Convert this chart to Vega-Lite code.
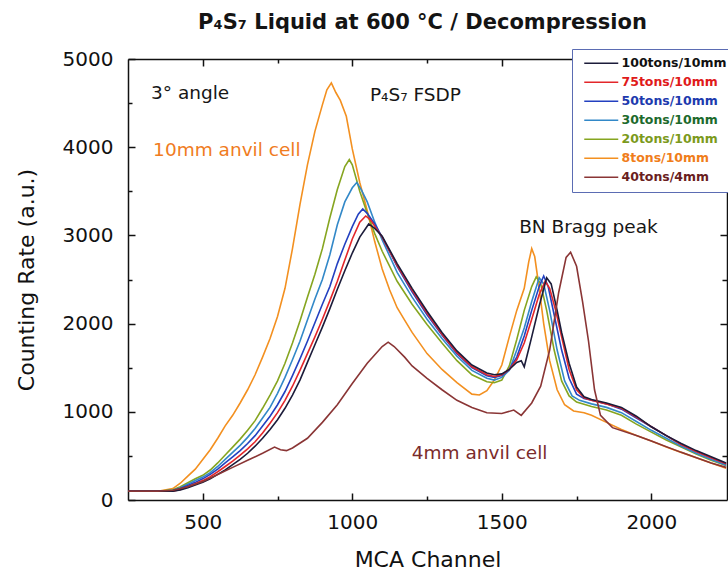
{
  "$schema": "https://vega.github.io/schema/vega-lite/v6.json",
  "width": 599,
  "height": 441,
  "autosize": {"type": "none"},
  "padding": {"left": 128, "top": 59, "right": 1, "bottom": 78},
  "background": "white",
  "config": {"font": "DejaVu Sans", "view": {"stroke": null}},
  "title": {"text": "P₄S₇ Liquid at 600 °C / Decompression", "font": "DejaVu Sans", "fontSize": 21, "fontWeight": "bold", "color": "#141414", "anchor": "middle", "frame": "group", "dx": -5, "offset": 16},
  "datasets": {
    "curves": [
      {"series":"8tons/10mm","channel":250,"rate":100},{"series":"8tons/10mm","channel":300,"rate":100},{"series":"8tons/10mm","channel":350,"rate":100},{"series":"8tons/10mm","channel":400,"rate":130},{"series":"8tons/10mm","channel":425,"rate":190},{"series":"8tons/10mm","channel":450,"rate":270},{"series":"8tons/10mm","channel":475,"rate":350},{"series":"8tons/10mm","channel":500,"rate":460},{"series":"8tons/10mm","channel":525,"rate":570},{"series":"8tons/10mm","channel":550,"rate":700},{"series":"8tons/10mm","channel":575,"rate":840},{"series":"8tons/10mm","channel":600,"rate":960},{"series":"8tons/10mm","channel":625,"rate":1100},{"series":"8tons/10mm","channel":650,"rate":1250},{"series":"8tons/10mm","channel":675,"rate":1420},{"series":"8tons/10mm","channel":700,"rate":1620},{"series":"8tons/10mm","channel":725,"rate":1830},{"series":"8tons/10mm","channel":750,"rate":2080},{"series":"8tons/10mm","channel":775,"rate":2400},{"series":"8tons/10mm","channel":800,"rate":2850},{"series":"8tons/10mm","channel":825,"rate":3350},{"series":"8tons/10mm","channel":850,"rate":3800},{"series":"8tons/10mm","channel":875,"rate":4180},{"series":"8tons/10mm","channel":900,"rate":4480},{"series":"8tons/10mm","channel":915,"rate":4650},{"series":"8tons/10mm","channel":930,"rate":4730},{"series":"8tons/10mm","channel":945,"rate":4620},{"series":"8tons/10mm","channel":960,"rate":4530},{"series":"8tons/10mm","channel":980,"rate":4350},{"series":"8tons/10mm","channel":1000,"rate":3980},{"series":"8tons/10mm","channel":1025,"rate":3600},{"series":"8tons/10mm","channel":1050,"rate":3280},{"series":"8tons/10mm","channel":1075,"rate":2930},{"series":"8tons/10mm","channel":1100,"rate":2620},{"series":"8tons/10mm","channel":1125,"rate":2380},{"series":"8tons/10mm","channel":1150,"rate":2180},{"series":"8tons/10mm","channel":1175,"rate":2040},{"series":"8tons/10mm","channel":1200,"rate":1900},{"series":"8tons/10mm","channel":1250,"rate":1660},{"series":"8tons/10mm","channel":1300,"rate":1480},{"series":"8tons/10mm","channel":1350,"rate":1330},{"series":"8tons/10mm","channel":1400,"rate":1200},{"series":"8tons/10mm","channel":1425,"rate":1190},{"series":"8tons/10mm","channel":1450,"rate":1240},{"series":"8tons/10mm","channel":1475,"rate":1360},{"series":"8tons/10mm","channel":1500,"rate":1530},{"series":"8tons/10mm","channel":1525,"rate":1850},{"series":"8tons/10mm","channel":1550,"rate":2150},{"series":"8tons/10mm","channel":1575,"rate":2400},{"series":"8tons/10mm","channel":1590,"rate":2700},{"series":"8tons/10mm","channel":1600,"rate":2850},{"series":"8tons/10mm","channel":1610,"rate":2760},{"series":"8tons/10mm","channel":1625,"rate":2400},{"series":"8tons/10mm","channel":1640,"rate":2000},{"series":"8tons/10mm","channel":1660,"rate":1580},{"series":"8tons/10mm","channel":1685,"rate":1250},{"series":"8tons/10mm","channel":1710,"rate":1080},{"series":"8tons/10mm","channel":1740,"rate":1010},{"series":"8tons/10mm","channel":1775,"rate":990},{"series":"8tons/10mm","channel":1800,"rate":960},{"series":"8tons/10mm","channel":1850,"rate":880},{"series":"8tons/10mm","channel":1900,"rate":800},{"series":"8tons/10mm","channel":1950,"rate":730},{"series":"8tons/10mm","channel":2000,"rate":670},{"series":"8tons/10mm","channel":2050,"rate":600},{"series":"8tons/10mm","channel":2100,"rate":540},{"series":"8tons/10mm","channel":2150,"rate":480},{"series":"8tons/10mm","channel":2200,"rate":420},{"series":"8tons/10mm","channel":2250,"rate":360},

      {"series":"20tons/10mm","channel":250,"rate":100},{"series":"20tons/10mm","channel":300,"rate":100},{"series":"20tons/10mm","channel":350,"rate":100},{"series":"20tons/10mm","channel":400,"rate":115},{"series":"20tons/10mm","channel":425,"rate":150},{"series":"20tons/10mm","channel":450,"rate":195},{"series":"20tons/10mm","channel":475,"rate":240},{"series":"20tons/10mm","channel":500,"rate":280},{"series":"20tons/10mm","channel":525,"rate":340},{"series":"20tons/10mm","channel":550,"rate":420},{"series":"20tons/10mm","channel":575,"rate":510},{"series":"20tons/10mm","channel":600,"rate":600},{"series":"20tons/10mm","channel":625,"rate":690},{"series":"20tons/10mm","channel":650,"rate":790},{"series":"20tons/10mm","channel":675,"rate":900},{"series":"20tons/10mm","channel":700,"rate":1040},{"series":"20tons/10mm","channel":725,"rate":1190},{"series":"20tons/10mm","channel":750,"rate":1350},{"series":"20tons/10mm","channel":775,"rate":1550},{"series":"20tons/10mm","channel":800,"rate":1780},{"series":"20tons/10mm","channel":825,"rate":2030},{"series":"20tons/10mm","channel":850,"rate":2300},{"series":"20tons/10mm","channel":875,"rate":2560},{"series":"20tons/10mm","channel":900,"rate":2850},{"series":"20tons/10mm","channel":925,"rate":3200},{"series":"20tons/10mm","channel":950,"rate":3520},{"series":"20tons/10mm","channel":975,"rate":3780},{"series":"20tons/10mm","channel":990,"rate":3860},{"series":"20tons/10mm","channel":1000,"rate":3800},{"series":"20tons/10mm","channel":1025,"rate":3500},{"series":"20tons/10mm","channel":1050,"rate":3250},{"series":"20tons/10mm","channel":1075,"rate":3020},{"series":"20tons/10mm","channel":1100,"rate":2820},{"series":"20tons/10mm","channel":1150,"rate":2480},{"series":"20tons/10mm","channel":1200,"rate":2220},{"series":"20tons/10mm","channel":1250,"rate":1990},{"series":"20tons/10mm","channel":1300,"rate":1780},{"series":"20tons/10mm","channel":1350,"rate":1580},{"series":"20tons/10mm","channel":1400,"rate":1420},{"series":"20tons/10mm","channel":1450,"rate":1340},{"series":"20tons/10mm","channel":1475,"rate":1330},{"series":"20tons/10mm","channel":1500,"rate":1360},{"series":"20tons/10mm","channel":1525,"rate":1520},{"series":"20tons/10mm","channel":1550,"rate":1820},{"series":"20tons/10mm","channel":1575,"rate":2150},{"series":"20tons/10mm","channel":1600,"rate":2420},{"series":"20tons/10mm","channel":1615,"rate":2530},{"series":"20tons/10mm","channel":1630,"rate":2450},{"series":"20tons/10mm","channel":1650,"rate":2150},{"series":"20tons/10mm","channel":1675,"rate":1700},{"series":"20tons/10mm","channel":1700,"rate":1350},{"series":"20tons/10mm","channel":1725,"rate":1180},{"series":"20tons/10mm","channel":1750,"rate":1110},{"series":"20tons/10mm","channel":1800,"rate":1060},{"series":"20tons/10mm","channel":1850,"rate":1020},{"series":"20tons/10mm","channel":1900,"rate":960},{"series":"20tons/10mm","channel":1950,"rate":860},{"series":"20tons/10mm","channel":2000,"rate":770},{"series":"20tons/10mm","channel":2050,"rate":680},{"series":"20tons/10mm","channel":2100,"rate":600},{"series":"20tons/10mm","channel":2150,"rate":520},{"series":"20tons/10mm","channel":2200,"rate":450},{"series":"20tons/10mm","channel":2250,"rate":390},

      {"series":"30tons/10mm","channel":250,"rate":100},{"series":"30tons/10mm","channel":300,"rate":100},{"series":"30tons/10mm","channel":350,"rate":100},{"series":"30tons/10mm","channel":400,"rate":110},{"series":"30tons/10mm","channel":425,"rate":140},{"series":"30tons/10mm","channel":450,"rate":180},{"series":"30tons/10mm","channel":475,"rate":220},{"series":"30tons/10mm","channel":500,"rate":260},{"series":"30tons/10mm","channel":525,"rate":310},{"series":"30tons/10mm","channel":550,"rate":380},{"series":"30tons/10mm","channel":575,"rate":460},{"series":"30tons/10mm","channel":600,"rate":540},{"series":"30tons/10mm","channel":625,"rate":620},{"series":"30tons/10mm","channel":650,"rate":710},{"series":"30tons/10mm","channel":675,"rate":810},{"series":"30tons/10mm","channel":700,"rate":930},{"series":"30tons/10mm","channel":725,"rate":1050},{"series":"30tons/10mm","channel":750,"rate":1210},{"series":"30tons/10mm","channel":775,"rate":1390},{"series":"30tons/10mm","channel":800,"rate":1590},{"series":"30tons/10mm","channel":825,"rate":1800},{"series":"30tons/10mm","channel":850,"rate":2040},{"series":"30tons/10mm","channel":875,"rate":2280},{"series":"30tons/10mm","channel":900,"rate":2500},{"series":"30tons/10mm","channel":925,"rate":2780},{"series":"30tons/10mm","channel":950,"rate":3120},{"series":"30tons/10mm","channel":975,"rate":3380},{"series":"30tons/10mm","channel":1000,"rate":3540},{"series":"30tons/10mm","channel":1015,"rate":3600},{"series":"30tons/10mm","channel":1030,"rate":3520},{"series":"30tons/10mm","channel":1050,"rate":3380},{"series":"30tons/10mm","channel":1075,"rate":3150},{"series":"30tons/10mm","channel":1100,"rate":2950},{"series":"30tons/10mm","channel":1150,"rate":2580},{"series":"30tons/10mm","channel":1200,"rate":2300},{"series":"30tons/10mm","channel":1250,"rate":2050},{"series":"30tons/10mm","channel":1300,"rate":1830},{"series":"30tons/10mm","channel":1350,"rate":1630},{"series":"30tons/10mm","channel":1400,"rate":1470},{"series":"30tons/10mm","channel":1450,"rate":1380},{"series":"30tons/10mm","channel":1475,"rate":1360},{"series":"30tons/10mm","channel":1500,"rate":1390},{"series":"30tons/10mm","channel":1525,"rate":1470},{"series":"30tons/10mm","channel":1550,"rate":1700},{"series":"30tons/10mm","channel":1575,"rate":1950},{"series":"30tons/10mm","channel":1600,"rate":2250},{"series":"30tons/10mm","channel":1625,"rate":2520},{"series":"30tons/10mm","channel":1640,"rate":2450},{"series":"30tons/10mm","channel":1660,"rate":2150},{"series":"30tons/10mm","channel":1685,"rate":1700},{"series":"30tons/10mm","channel":1710,"rate":1350},{"series":"30tons/10mm","channel":1735,"rate":1180},{"series":"30tons/10mm","channel":1760,"rate":1130},{"series":"30tons/10mm","channel":1800,"rate":1090},{"series":"30tons/10mm","channel":1850,"rate":1050},{"series":"30tons/10mm","channel":1900,"rate":990},{"series":"30tons/10mm","channel":1950,"rate":890},{"series":"30tons/10mm","channel":2000,"rate":790},{"series":"30tons/10mm","channel":2050,"rate":700},{"series":"30tons/10mm","channel":2100,"rate":610},{"series":"30tons/10mm","channel":2150,"rate":530},{"series":"30tons/10mm","channel":2200,"rate":460},{"series":"30tons/10mm","channel":2250,"rate":395},

      {"series":"50tons/10mm","channel":250,"rate":100},{"series":"50tons/10mm","channel":300,"rate":100},{"series":"50tons/10mm","channel":350,"rate":100},{"series":"50tons/10mm","channel":400,"rate":105},{"series":"50tons/10mm","channel":425,"rate":130},{"series":"50tons/10mm","channel":450,"rate":165},{"series":"50tons/10mm","channel":475,"rate":200},{"series":"50tons/10mm","channel":500,"rate":240},{"series":"50tons/10mm","channel":525,"rate":290},{"series":"50tons/10mm","channel":550,"rate":350},{"series":"50tons/10mm","channel":575,"rate":420},{"series":"50tons/10mm","channel":600,"rate":490},{"series":"50tons/10mm","channel":625,"rate":560},{"series":"50tons/10mm","channel":650,"rate":640},{"series":"50tons/10mm","channel":675,"rate":730},{"series":"50tons/10mm","channel":700,"rate":840},{"series":"50tons/10mm","channel":725,"rate":950},{"series":"50tons/10mm","channel":750,"rate":1080},{"series":"50tons/10mm","channel":775,"rate":1230},{"series":"50tons/10mm","channel":800,"rate":1410},{"series":"50tons/10mm","channel":825,"rate":1600},{"series":"50tons/10mm","channel":850,"rate":1800},{"series":"50tons/10mm","channel":875,"rate":2010},{"series":"50tons/10mm","channel":900,"rate":2220},{"series":"50tons/10mm","channel":925,"rate":2420},{"series":"50tons/10mm","channel":950,"rate":2680},{"series":"50tons/10mm","channel":975,"rate":2900},{"series":"50tons/10mm","channel":1000,"rate":3100},{"series":"50tons/10mm","channel":1020,"rate":3240},{"series":"50tons/10mm","channel":1035,"rate":3300},{"series":"50tons/10mm","channel":1050,"rate":3250},{"series":"50tons/10mm","channel":1075,"rate":3130},{"series":"50tons/10mm","channel":1100,"rate":2980},{"series":"50tons/10mm","channel":1150,"rate":2650},{"series":"50tons/10mm","channel":1200,"rate":2360},{"series":"50tons/10mm","channel":1250,"rate":2100},{"series":"50tons/10mm","channel":1300,"rate":1870},{"series":"50tons/10mm","channel":1350,"rate":1660},{"series":"50tons/10mm","channel":1400,"rate":1500},{"series":"50tons/10mm","channel":1450,"rate":1410},{"series":"50tons/10mm","channel":1475,"rate":1390},{"series":"50tons/10mm","channel":1500,"rate":1410},{"series":"50tons/10mm","channel":1525,"rate":1480},{"series":"50tons/10mm","channel":1550,"rate":1620},{"series":"50tons/10mm","channel":1575,"rate":1860},{"series":"50tons/10mm","channel":1600,"rate":2150},{"series":"50tons/10mm","channel":1625,"rate":2420},{"series":"50tons/10mm","channel":1640,"rate":2540},{"series":"50tons/10mm","channel":1655,"rate":2420},{"series":"50tons/10mm","channel":1675,"rate":2100},{"series":"50tons/10mm","channel":1700,"rate":1700},{"series":"50tons/10mm","channel":1725,"rate":1380},{"series":"50tons/10mm","channel":1750,"rate":1200},{"series":"50tons/10mm","channel":1775,"rate":1150},{"series":"50tons/10mm","channel":1800,"rate":1130},{"series":"50tons/10mm","channel":1850,"rate":1090},{"series":"50tons/10mm","channel":1900,"rate":1030},{"series":"50tons/10mm","channel":1950,"rate":930},{"series":"50tons/10mm","channel":2000,"rate":830},{"series":"50tons/10mm","channel":2050,"rate":730},{"series":"50tons/10mm","channel":2100,"rate":630},{"series":"50tons/10mm","channel":2150,"rate":550},{"series":"50tons/10mm","channel":2200,"rate":480},{"series":"50tons/10mm","channel":2250,"rate":410},

      {"series":"75tons/10mm","channel":250,"rate":100},{"series":"75tons/10mm","channel":300,"rate":100},{"series":"75tons/10mm","channel":350,"rate":100},{"series":"75tons/10mm","channel":400,"rate":100},{"series":"75tons/10mm","channel":425,"rate":120},{"series":"75tons/10mm","channel":450,"rate":150},{"series":"75tons/10mm","channel":475,"rate":185},{"series":"75tons/10mm","channel":500,"rate":220},{"series":"75tons/10mm","channel":525,"rate":265},{"series":"75tons/10mm","channel":550,"rate":320},{"series":"75tons/10mm","channel":575,"rate":380},{"series":"75tons/10mm","channel":600,"rate":440},{"series":"75tons/10mm","channel":625,"rate":510},{"series":"75tons/10mm","channel":650,"rate":580},{"series":"75tons/10mm","channel":675,"rate":660},{"series":"75tons/10mm","channel":700,"rate":760},{"series":"75tons/10mm","channel":725,"rate":870},{"series":"75tons/10mm","channel":750,"rate":990},{"series":"75tons/10mm","channel":775,"rate":1130},{"series":"75tons/10mm","channel":800,"rate":1290},{"series":"75tons/10mm","channel":825,"rate":1470},{"series":"75tons/10mm","channel":850,"rate":1660},{"series":"75tons/10mm","channel":875,"rate":1850},{"series":"75tons/10mm","channel":900,"rate":2050},{"series":"75tons/10mm","channel":925,"rate":2260},{"series":"75tons/10mm","channel":950,"rate":2480},{"series":"75tons/10mm","channel":975,"rate":2720},{"series":"75tons/10mm","channel":1000,"rate":2960},{"series":"75tons/10mm","channel":1025,"rate":3150},{"series":"75tons/10mm","channel":1045,"rate":3220},{"series":"75tons/10mm","channel":1060,"rate":3180},{"series":"75tons/10mm","channel":1080,"rate":3080},{"series":"75tons/10mm","channel":1100,"rate":2980},{"series":"75tons/10mm","channel":1150,"rate":2660},{"series":"75tons/10mm","channel":1200,"rate":2380},{"series":"75tons/10mm","channel":1250,"rate":2120},{"series":"75tons/10mm","channel":1300,"rate":1880},{"series":"75tons/10mm","channel":1350,"rate":1670},{"series":"75tons/10mm","channel":1400,"rate":1510},{"series":"75tons/10mm","channel":1450,"rate":1420},{"series":"75tons/10mm","channel":1475,"rate":1400},{"series":"75tons/10mm","channel":1500,"rate":1420},{"series":"75tons/10mm","channel":1525,"rate":1480},{"series":"75tons/10mm","channel":1550,"rate":1590},{"series":"75tons/10mm","channel":1575,"rate":1780},{"series":"75tons/10mm","channel":1600,"rate":2050},{"series":"75tons/10mm","channel":1625,"rate":2330},{"series":"75tons/10mm","channel":1645,"rate":2480},{"series":"75tons/10mm","channel":1660,"rate":2400},{"series":"75tons/10mm","channel":1680,"rate":2150},{"series":"75tons/10mm","channel":1700,"rate":1850},{"series":"75tons/10mm","channel":1725,"rate":1480},{"series":"75tons/10mm","channel":1750,"rate":1250},{"series":"75tons/10mm","channel":1775,"rate":1160},{"series":"75tons/10mm","channel":1800,"rate":1130},{"series":"75tons/10mm","channel":1850,"rate":1090},{"series":"75tons/10mm","channel":1900,"rate":1040},{"series":"75tons/10mm","channel":1950,"rate":940},{"series":"75tons/10mm","channel":2000,"rate":830},{"series":"75tons/10mm","channel":2050,"rate":730},{"series":"75tons/10mm","channel":2100,"rate":630},{"series":"75tons/10mm","channel":2150,"rate":550},{"series":"75tons/10mm","channel":2200,"rate":480},{"series":"75tons/10mm","channel":2250,"rate":410},

      {"series":"100tons/10mm","channel":250,"rate":100},{"series":"100tons/10mm","channel":300,"rate":100},{"series":"100tons/10mm","channel":350,"rate":100},{"series":"100tons/10mm","channel":400,"rate":100},{"series":"100tons/10mm","channel":425,"rate":115},{"series":"100tons/10mm","channel":450,"rate":140},{"series":"100tons/10mm","channel":475,"rate":170},{"series":"100tons/10mm","channel":500,"rate":200},{"series":"100tons/10mm","channel":525,"rate":240},{"series":"100tons/10mm","channel":550,"rate":290},{"series":"100tons/10mm","channel":575,"rate":340},{"series":"100tons/10mm","channel":600,"rate":400},{"series":"100tons/10mm","channel":625,"rate":460},{"series":"100tons/10mm","channel":650,"rate":530},{"series":"100tons/10mm","channel":675,"rate":610},{"series":"100tons/10mm","channel":700,"rate":700},{"series":"100tons/10mm","channel":725,"rate":800},{"series":"100tons/10mm","channel":750,"rate":910},{"series":"100tons/10mm","channel":775,"rate":1040},{"series":"100tons/10mm","channel":800,"rate":1190},{"series":"100tons/10mm","channel":825,"rate":1360},{"series":"100tons/10mm","channel":850,"rate":1560},{"series":"100tons/10mm","channel":875,"rate":1760},{"series":"100tons/10mm","channel":900,"rate":1960},{"series":"100tons/10mm","channel":925,"rate":2170},{"series":"100tons/10mm","channel":950,"rate":2390},{"series":"100tons/10mm","channel":975,"rate":2600},{"series":"100tons/10mm","channel":1000,"rate":2800},{"series":"100tons/10mm","channel":1025,"rate":2980},{"series":"100tons/10mm","channel":1055,"rate":3130},{"series":"100tons/10mm","channel":1075,"rate":3080},{"series":"100tons/10mm","channel":1100,"rate":2990},{"series":"100tons/10mm","channel":1150,"rate":2680},{"series":"100tons/10mm","channel":1200,"rate":2400},{"series":"100tons/10mm","channel":1250,"rate":2140},{"series":"100tons/10mm","channel":1300,"rate":1900},{"series":"100tons/10mm","channel":1350,"rate":1690},{"series":"100tons/10mm","channel":1400,"rate":1530},{"series":"100tons/10mm","channel":1450,"rate":1440},{"series":"100tons/10mm","channel":1475,"rate":1420},{"series":"100tons/10mm","channel":1500,"rate":1430},{"series":"100tons/10mm","channel":1525,"rate":1480},{"series":"100tons/10mm","channel":1550,"rate":1560},{"series":"100tons/10mm","channel":1565,"rate":1580},{"series":"100tons/10mm","channel":1575,"rate":1510},{"series":"100tons/10mm","channel":1600,"rate":1850},{"series":"100tons/10mm","channel":1625,"rate":2200},{"series":"100tons/10mm","channel":1650,"rate":2520},{"series":"100tons/10mm","channel":1665,"rate":2450},{"series":"100tons/10mm","channel":1685,"rate":2150},{"series":"100tons/10mm","channel":1700,"rate":1900},{"series":"100tons/10mm","channel":1725,"rate":1550},{"series":"100tons/10mm","channel":1750,"rate":1280},{"series":"100tons/10mm","channel":1775,"rate":1170},{"series":"100tons/10mm","channel":1800,"rate":1140},{"series":"100tons/10mm","channel":1850,"rate":1100},{"series":"100tons/10mm","channel":1900,"rate":1050},{"series":"100tons/10mm","channel":1950,"rate":950},{"series":"100tons/10mm","channel":2000,"rate":830},{"series":"100tons/10mm","channel":2050,"rate":730},{"series":"100tons/10mm","channel":2100,"rate":640},{"series":"100tons/10mm","channel":2150,"rate":560},{"series":"100tons/10mm","channel":2200,"rate":490},{"series":"100tons/10mm","channel":2250,"rate":420},

      {"series":"40tons/4mm","channel":250,"rate":100},{"series":"40tons/4mm","channel":300,"rate":100},{"series":"40tons/4mm","channel":350,"rate":100},{"series":"40tons/4mm","channel":400,"rate":110},{"series":"40tons/4mm","channel":450,"rate":150},{"series":"40tons/4mm","channel":500,"rate":210},{"series":"40tons/4mm","channel":550,"rate":290},{"series":"40tons/4mm","channel":600,"rate":370},{"series":"40tons/4mm","channel":650,"rate":450},{"series":"40tons/4mm","channel":700,"rate":530},{"series":"40tons/4mm","channel":740,"rate":600},{"series":"40tons/4mm","channel":760,"rate":570},{"series":"40tons/4mm","channel":780,"rate":560},{"series":"40tons/4mm","channel":800,"rate":590},{"series":"40tons/4mm","channel":850,"rate":700},{"series":"40tons/4mm","channel":900,"rate":880},{"series":"40tons/4mm","channel":950,"rate":1080},{"series":"40tons/4mm","channel":1000,"rate":1320},{"series":"40tons/4mm","channel":1050,"rate":1550},{"series":"40tons/4mm","channel":1100,"rate":1740},{"series":"40tons/4mm","channel":1120,"rate":1790},{"series":"40tons/4mm","channel":1140,"rate":1740},{"series":"40tons/4mm","channel":1175,"rate":1620},{"series":"40tons/4mm","channel":1200,"rate":1520},{"series":"40tons/4mm","channel":1250,"rate":1380},{"series":"40tons/4mm","channel":1300,"rate":1250},{"series":"40tons/4mm","channel":1350,"rate":1130},{"series":"40tons/4mm","channel":1400,"rate":1050},{"series":"40tons/4mm","channel":1450,"rate":990},{"series":"40tons/4mm","channel":1500,"rate":980},{"series":"40tons/4mm","channel":1540,"rate":1020},{"series":"40tons/4mm","channel":1565,"rate":960},{"series":"40tons/4mm","channel":1600,"rate":1100},{"series":"40tons/4mm","channel":1630,"rate":1290},{"series":"40tons/4mm","channel":1660,"rate":1700},{"series":"40tons/4mm","channel":1690,"rate":2350},{"series":"40tons/4mm","channel":1715,"rate":2750},{"series":"40tons/4mm","channel":1730,"rate":2810},{"series":"40tons/4mm","channel":1750,"rate":2650},{"series":"40tons/4mm","channel":1770,"rate":2250},{"series":"40tons/4mm","channel":1790,"rate":1800},{"series":"40tons/4mm","channel":1810,"rate":1250},{"series":"40tons/4mm","channel":1830,"rate":960},{"series":"40tons/4mm","channel":1870,"rate":820},{"series":"40tons/4mm","channel":1950,"rate":730},{"series":"40tons/4mm","channel":2000,"rate":670},{"series":"40tons/4mm","channel":2100,"rate":540},{"series":"40tons/4mm","channel":2200,"rate":420},{"series":"40tons/4mm","channel":2250,"rate":370}
    ],
    "notes": [
      {"label": "3° angle", "channel": 327, "rate": 4615},
      {"label": "P₄S₇ FSDP", "channel": 1059, "rate": 4592},
      {"label": "10mm anvil cell", "channel": 334, "rate": 3968},
      {"label": "BN Bragg peak", "channel": 1558, "rate": 3099},
      {"label": "4mm anvil cell", "channel": 1199, "rate": 537}
    ]
  },
  "layer": [
    {
      "data": {"name": "curves"},
      "mark": {"type": "line", "strokeWidth": 1.6},
      "encoding": {
        "x": {
          "field": "channel", "type": "quantitative",
          "scale": {"domain": [250, 2253], "nice": false, "zero": false},
          "axis": {
            "orient": "bottom", "values": [500, 750, 1000, 1250, 1500, 1750, 2000],
            "format": "d", "labelExpr": "datum.value % 500 === 0 ? datum.label : ''",
            "tickSize": {"condition": {"test": "datum.value % 500 === 0", "value": -7}, "value": -4},
            "tickWidth": 1.5, "tickColor": "#111111", "domainColor": "#111111", "domainWidth": 1.5,
            "labelFont": "DejaVu Sans", "labelFontSize": 20, "labelColor": "#111111", "labelPadding": 19,
            "labelFlush": false, "labelOverlap": false, "grid": false,
            "title": "MCA Channel", "titleFont": "DejaVu Sans", "titleFontSize": 22, "titleFontWeight": "normal", "titleColor": "#111111", "titlePadding": 14
          }
        },
        "y": {
          "field": "rate", "type": "quantitative",
          "scale": {"domain": [0, 5000], "nice": false},
          "axis": {
            "orient": "left", "values": [0, 500, 1000, 1500, 2000, 2500, 3000, 3500, 4000, 4500, 5000],
            "format": "d", "labelExpr": "datum.value % 1000 === 0 ? datum.label : ''",
            "tickSize": {"condition": {"test": "datum.value % 1000 === 0", "value": -7}, "value": -4},
            "tickWidth": 1.5, "tickColor": "#111111", "domainColor": "#111111", "domainWidth": 1.5,
            "labelFont": "DejaVu Sans", "labelFontSize": 20, "labelColor": "#111111", "labelPadding": 22,
            "labelFlush": false, "labelOverlap": false, "grid": false,
            "title": "Counting Rate (a.u.)", "titleFont": "DejaVu Sans", "titleFontSize": 22, "titleFontWeight": "normal", "titleColor": "#111111", "titlePadding": 24
          }
        },
        "color": {
          "field": "series", "type": "nominal",
          "scale": {
            "domain": ["100tons/10mm", "75tons/10mm", "50tons/10mm", "30tons/10mm", "20tons/10mm", "8tons/10mm", "40tons/4mm"],
            "range": ["#1c1c3a", "#e3262a", "#2340c0", "#3288c8", "#86a520", "#f39020", "#8a3535"]
          },
          "legend": {
            "orient": "none", "legendX": 444, "legendY": -10, "title": null,
            "strokeColor": "#5b6cb3", "fillColor": "white", "padding": 8,
            "symbolType": "M-5.667,0L5.667,0", "symbolSize": 36, "symbolStrokeWidth": 1.3,
            "symbolOffset": 15, "labelOffset": 14, "rowPadding": 6,
            "labelFont": "DejaVu Sans", "labelFontSize": 12.5, "labelFontWeight": "bold", "labelLimit": 200,
            "encode": {"labels": {"update": {"fill": {"signal": "datum.value === '100tons/10mm' ? '#111111' : datum.value === '75tons/10mm' ? '#e01a1a' : datum.value === '50tons/10mm' ? '#1d3aae' : datum.value === '30tons/10mm' ? '#1d6a2c' : datum.value === '20tons/10mm' ? '#7c9a1c' : datum.value === '8tons/10mm' ? '#f07d1a' : '#6a1e1e'"}}}}
          }
        }
      }
    },
    {
      "data": {"name": "notes"},
      "mark": {"type": "text", "align": "left", "baseline": "middle", "font": "DejaVu Sans", "fontSize": 18.5},
      "encoding": {
        "x": {
          "field": "channel", "type": "quantitative",
          "axis": {
            "orient": "top", "values": [500, 750, 1000, 1250, 1500, 1750, 2000], "labels": false, "title": null,
            "tickSize": {"condition": {"test": "datum.value % 500 === 0", "value": -7}, "value": -4},
            "tickWidth": 1.5, "tickColor": "#111111", "domainColor": "#111111", "domainWidth": 1.5, "grid": false
          }
        },
        "y": {
          "field": "rate", "type": "quantitative",
          "axis": {
            "orient": "right", "values": [500, 1000, 1500, 2000, 2500, 3000, 3500, 4000, 4500], "labels": false, "title": null,
            "tickSize": {"condition": {"test": "datum.value % 1000 === 0", "value": -7}, "value": -5},
            "tickWidth": 1.5, "tickColor": "#111111", "domainColor": "#111111", "domainWidth": 1.5, "grid": false
          }
        },
        "text": {"field": "label", "type": "nominal"},
        "color": {
          "condition": [
            {"test": "datum.label === '10mm anvil cell'", "value": "#f07c1e"},
            {"test": "datum.label === '4mm anvil cell'", "value": "#7b2b2b"}
          ],
          "value": "#161616"
        }
      }
    }
  ],
  "resolve": {"axis": {"x": "independent", "y": "independent"}}
}
